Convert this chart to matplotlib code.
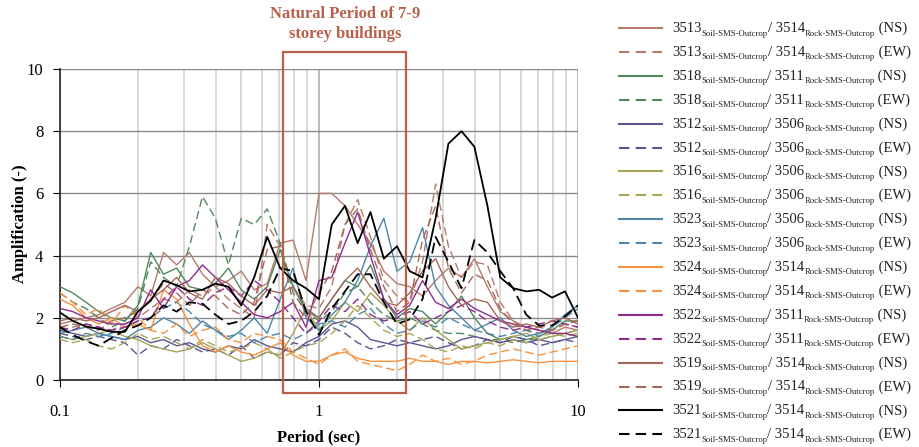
import matplotlib
matplotlib.use("Agg")
import matplotlib.pyplot as plt
from matplotlib.lines import Line2D
from matplotlib.patches import Rectangle

plt.rcParams['font.family'] = ['Liberation Serif', 'DejaVu Serif']

# periods (sec) at which the spectral ratios are sampled
period = [0.100, 0.112, 0.126, 0.141, 0.158, 0.178, 0.200, 0.224, 0.251, 0.282,
          0.316, 0.355, 0.398, 0.447, 0.501, 0.562, 0.631, 0.708, 0.794, 0.891,
          1.00, 1.12, 1.26, 1.41, 1.58, 1.78, 2.00, 2.24, 2.51, 2.82,
          3.16, 3.55, 3.98, 4.47, 5.01, 5.62, 6.31, 7.08, 7.94, 8.91, 10.0]

# amplification ratios, soil / rock outcrop
r3513_ns = [1.8, 1.9, 2.0, 2.1, 2.3, 2.5, 3.0, 2.7, 4.1, 3.7, 4.1, 3.4, 3.0, 3.2, 3.5, 2.9, 3.1, 4.4, 4.5, 3.2,
            6.0, 6.0, 5.6, 5.0, 4.4, 3.5, 3.1, 3.0, 2.7, 3.2, 3.6, 3.3, 3.9, 3.0, 2.2, 1.9, 1.7, 1.6, 1.5, 1.7, 1.6]
r3513_ew = [1.6, 1.7, 1.8, 1.7, 1.6, 1.8, 2.0, 2.3, 2.6, 2.5, 2.9, 2.7, 3.0, 2.6, 2.3, 2.0, 5.0, 4.3, 3.0, 2.4,
            2.3, 3.0, 5.0, 5.8, 4.6, 3.2, 2.7, 2.5, 3.8, 6.3, 4.3, 3.3, 3.8, 3.7, 2.5, 1.9, 1.6, 1.5, 1.6, 1.8, 1.7]
r3518_ns = [3.0, 2.8, 2.5, 2.2, 2.0, 1.9, 2.4, 4.1, 3.4, 3.6, 3.0, 2.9, 3.1, 3.6, 2.9, 2.6, 3.0, 4.2, 3.0, 2.3,
            2.0, 2.6, 3.2, 3.0, 3.7, 2.6, 2.0, 2.3, 2.2, 1.8, 2.2, 2.7, 2.0, 1.5, 1.3, 1.4, 1.3, 1.4, 1.6, 1.9, 1.9]
r3518_ew = [2.8, 2.5, 2.3, 2.0, 1.7, 1.9, 2.3, 3.8, 3.3, 3.0, 4.3, 5.9, 5.2, 3.7, 5.2, 5.0, 5.5, 4.4, 2.8, 2.2,
            1.9, 2.2, 2.8, 3.0, 2.5, 2.1, 1.9, 2.0, 1.8, 1.6, 1.5, 1.5, 1.4, 1.3, 1.3, 1.2, 1.3, 1.3, 1.4, 1.5, 1.6]
r3512_ns = [1.6, 1.5, 1.4, 1.5, 1.4, 1.3, 1.4, 1.2, 1.3, 1.1, 1.2, 1.0, 0.9, 1.1, 1.0, 1.3, 1.1, 1.0, 0.9, 1.2,
            1.4, 1.8, 1.9, 1.7, 1.3, 1.2, 1.1, 1.2, 1.1, 1.0, 1.1, 1.3, 1.4, 1.3, 1.2, 1.3, 1.2, 1.3, 1.2, 1.3, 1.4]
r3512_ew = [1.5, 1.4, 1.3, 1.4, 1.3, 1.2, 0.8, 1.1, 1.0, 1.3, 1.1, 0.9, 1.0, 0.8, 1.1, 0.7, 0.9, 0.8, 1.2, 1.1,
            1.3, 1.7, 1.5, 1.2, 1.0, 1.1, 1.3, 1.2, 1.3, 1.4, 1.2, 1.0, 1.1, 1.3, 1.2, 1.4, 1.3, 1.1, 1.2, 1.3, 1.2]
r3516_ns = [1.4, 1.3, 1.4, 1.5, 1.6, 1.4, 1.3, 1.1, 1.0, 0.9, 1.0, 1.2, 1.0, 0.8, 0.6, 0.7, 0.9, 0.8, 1.5, 2.3,
            1.6, 1.9, 2.5, 2.2, 2.8, 2.4, 1.9, 1.6, 2.0, 1.6, 1.3, 1.0, 1.1, 1.2, 1.3, 1.4, 1.5, 1.3, 1.4, 1.5, 1.6]
r3516_ew = [1.3, 1.2, 1.3, 1.1, 1.0, 1.2, 1.5, 1.3, 1.4, 1.2, 1.0, 1.3, 1.1, 0.9, 1.0, 1.2, 1.0, 0.7, 0.9, 1.1,
            1.2, 1.5, 1.9, 2.4, 2.0, 1.6, 1.4, 1.5, 1.3, 1.0, 0.9, 1.1, 1.0, 1.2, 1.1, 1.3, 1.2, 1.4, 1.5, 1.4, 1.5]
r3523_ns = [1.5, 1.6, 1.7, 1.5, 1.4, 1.3, 1.6, 1.7, 2.0, 1.8, 1.5, 1.9, 1.6, 1.3, 1.6, 2.0, 1.5, 2.6, 3.6, 2.0,
            1.6, 2.1, 2.5, 3.2, 4.3, 5.2, 3.5, 3.8, 4.9, 3.0, 2.4, 2.0, 1.6, 1.8, 2.0, 1.6, 1.4, 1.5, 1.7, 2.1, 2.4]
r3523_ew = [1.4, 1.3, 1.5, 1.4, 1.5, 1.7, 1.9, 2.0, 2.3, 2.5, 2.2, 1.8, 1.6, 1.4, 1.5, 1.2, 1.4, 1.5, 1.3, 1.5,
            1.8, 1.9, 1.7, 2.1, 2.3, 1.8, 1.5, 1.6, 1.9, 1.7, 2.0, 1.8, 1.6, 1.5, 1.4, 1.5, 1.6, 1.4, 1.7, 2.0, 2.3]
r3524_ns = [2.6, 2.4, 2.0, 1.8, 2.0, 1.7, 1.8, 1.6, 2.9, 2.6, 1.8, 1.1, 0.9, 1.1, 0.9, 0.8, 1.0, 1.2, 0.8, 0.6,
            0.6, 0.8, 0.9, 0.7, 0.6, 0.6, 0.6, 0.7, 0.6, 0.6, 0.5, 0.6, 0.6, 0.55, 0.6, 0.65, 0.6, 0.55, 0.6, 0.6, 0.6]
r3524_ew = [2.8, 2.5, 2.1, 2.3, 1.8, 2.4, 2.0, 1.6, 1.5, 1.8, 1.4, 1.6, 1.7, 1.3, 1.2, 1.5, 1.4, 1.3, 0.9, 0.7,
            0.5, 0.8, 1.0, 0.6, 0.5, 0.4, 0.3, 0.5, 0.8, 0.6, 0.7, 0.5, 0.6, 0.8, 0.9, 1.0, 0.9, 0.8, 0.9, 1.0, 1.1]
r3522_ns = [2.3, 2.2, 2.0, 1.9, 1.8, 1.8, 2.0, 2.9, 2.3, 3.0, 3.2, 3.7, 3.3, 2.9, 2.5, 2.1, 2.0, 2.2, 2.5, 1.7,
            3.2, 3.3, 4.4, 5.4, 4.0, 2.6, 2.1, 2.4, 3.2, 2.5, 2.3, 2.6, 2.3, 2.1, 1.9, 1.8, 1.7, 1.6, 1.5, 1.5, 1.4]
r3522_ew = [1.7, 1.6, 1.8, 1.7, 1.6, 1.7, 1.9, 2.0, 2.6, 3.0, 2.6, 2.4, 2.8, 3.0, 2.7, 3.2, 2.9, 2.5, 2.0, 1.5,
            1.9, 2.4, 2.2, 2.6, 2.1, 1.9, 2.0, 2.2, 1.8, 2.0, 2.2, 2.4, 2.2, 1.9, 1.7, 1.6, 1.7, 1.8, 1.9, 1.8, 1.7]
r3519_ns = [1.9, 2.0, 1.9, 2.0, 2.2, 2.4, 2.2, 2.6, 2.9, 3.3, 2.8, 2.6, 3.3, 3.1, 2.7, 2.4, 2.9, 2.8, 3.0, 2.2,
            2.0, 2.6, 3.2, 3.6, 3.0, 2.5, 2.4, 2.8, 3.5, 3.9, 3.0, 2.4, 2.6, 2.5, 1.9, 1.7, 1.8, 1.7, 1.9, 2.0, 1.8]
r3519_ew = [1.7, 1.8, 1.7, 1.6, 1.9, 2.0, 2.2, 2.6, 3.1, 2.8, 2.4, 2.9, 2.7, 2.3, 2.1, 2.5, 4.2, 4.3, 2.5, 2.0,
            2.8, 3.5, 5.0, 5.5, 4.2, 3.0, 2.2, 2.5, 4.5, 5.6, 3.6, 2.8, 3.4, 3.2, 2.3, 1.8, 1.6, 1.7, 1.6, 1.8, 1.9]
r3521_ns = [2.17, 1.9, 1.72, 1.65, 1.55, 1.55, 2.2, 2.55, 3.2, 3.05, 2.85, 2.9, 3.1, 3.0, 2.4, 3.3, 4.6, 3.6, 3.2, 2.95,
            2.6, 5.0, 5.6, 4.4, 5.4, 3.9, 4.3, 3.5, 3.3, 5.2, 7.6, 8.0, 7.5, 5.6, 3.3, 2.95, 2.85, 2.9, 2.65, 2.85, 2.0]
r3521_ew = [1.7, 1.45, 1.25, 1.1, 1.35, 1.6, 1.75, 2.0, 2.4, 2.2, 2.5, 2.45, 2.1, 1.8, 1.9, 2.2, 2.7, 3.6, 3.5, 2.2,
            1.45, 2.3, 2.85, 3.4, 3.4, 2.5, 1.8, 1.95, 2.6, 4.6, 3.8, 2.95, 4.5, 4.1, 3.5, 2.95, 2.1, 1.75, 1.75, 2.05, 2.4]

soil_station = ['3513', '3513', '3518', '3518', '3512', '3512', '3516', '3516', '3523',
                '3523', '3524', '3524', '3522', '3522', '3519', '3519', '3521', '3521']
rock_station = ['3514', '3514', '3511', '3511', '3506', '3506', '3506', '3506', '3506',
                '3506', '3514', '3514', '3511', '3511', '3514', '3514', '3514', '3514']
component = ['NS', 'EW'] * 9
ratios = [r3513_ns, r3513_ew, r3518_ns, r3518_ew, r3512_ns, r3512_ew, r3516_ns, r3516_ew,
          r3523_ns, r3523_ew, r3524_ns, r3524_ew, r3522_ns, r3522_ew, r3519_ns, r3519_ew,
          r3521_ns, r3521_ew]
pair_colors = ['#b57a6d', '#508a5c', '#5a5590', '#a7a457', '#4b87a6',
               '#f7913f', '#8f2b8f', '#a6665a', '#000000']

W, H = 920, 447
fig = plt.figure(figsize=(W / 100, H / 100), dpi=100)
ax = fig.add_axes([60 / W, 67 / H, 518 / W, 311 / H])

for i, vals in enumerate(ratios):
    col = pair_colors[i // 2]
    ls = '-' if component[i] == 'NS' else (0, (6, 3))
    lw = 1.3 if col == '#000000' else 1.0
    ax.plot(period, vals, color=col, ls=ls, lw=lw, zorder=3)

ax.set_xscale('log')
ax.set_xlim(0.1, 10)
ax.set_ylim(0, 10)
ax.set_xticks([0.1, 1, 10])
ax.set_xticklabels(['0.1', '1', '10'])
ax.set_yticks([0, 2, 4, 6, 8, 10])
ax.tick_params(axis='x', which='major', direction='out', length=5, pad=12, labelsize=12)
ax.tick_params(axis='y', which='major', direction='out', length=5, pad=7, labelsize=12)
ax.tick_params(axis='x', which='minor', length=0)
ax.grid(axis='y', which='major', color='#8a8a8a', lw=1.0, zorder=1)
ax.grid(axis='x', which='minor', color='#d6d6d6', lw=1.3, zorder=1)
ax.grid(axis='x', which='major', color='#b4b4b4', lw=1.3, zorder=1)
ax.set_axisbelow(True)
for s in ['top', 'right']:
    ax.spines[s].set_visible(False)
for s in ['left', 'bottom']:
    ax.spines[s].set_color('#222222')
    ax.spines[s].set_linewidth(1.2)

# band of natural periods for 7-9 storey buildings
box_color = '#b8604c'
ax.add_patch(Rectangle((0.726, -0.41), 2.17 - 0.726, 10.97, fill=False,
                       edgecolor=box_color, lw=1.6, clip_on=False, zorder=5))
fig.text(345 / W, 1 - 14 / H, 'Natural Period of 7-9', color=box_color,
         fontsize=12, fontweight='bold', ha='center', va='center')
fig.text(345 / W, 1 - 34 / H, 'storey buildings', color=box_color,
         fontsize=12, fontweight='bold', ha='center', va='center')

fig.text(319 / W, 1 - 437 / H, 'Period (sec)', fontsize=12, fontweight='bold',
         ha='center', va='center')
fig.text(20 / W, 1 - 224 / H, 'Amplification (-)', fontsize=12, fontweight='bold',
         ha='center', va='center', rotation=90)

# legend drawn row by row, subscripts placed piece by piece
renderer = fig.canvas.get_renderer()
txt_col = '#222222'
for i in range(len(ratios)):
    yc = 28 + 23.9 * i
    col = pair_colors[i // 2]
    ls = '-' if component[i] == 'NS' else (0, (5, 3))
    fig.add_artist(Line2D([619 / W, 662 / W], [1 - yc / H, 1 - yc / H], color=col, ls=ls, lw=1.5))
    pieces = [(soil_station[i], 10.5, 0), ('Soil-SMS-Outcrop', 6.2, 3.5),
              ('/ ' + rock_station[i], 10.5, 0), ('Rock-SMS-Outcrop', 6.2, 3.5),
              (' (' + component[i] + ')', 10.5, 0)]
    x = 672
    for s, size, drop in pieces:
        t = fig.text(x / W, 1 - (yc + 4 + drop) / H, s, fontsize=size, color=txt_col,
                     ha='left', va='baseline')
        x += t.get_window_extent(renderer).width

fig.savefig('out.png', dpi=100, facecolor='white')
